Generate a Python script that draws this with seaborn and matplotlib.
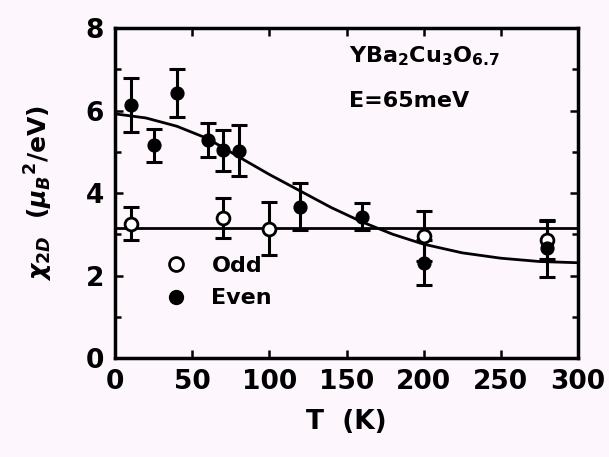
import matplotlib
matplotlib.use("Agg")
import matplotlib.pyplot as plt
import seaborn as sns
import pandas as pd
from matplotlib.ticker import MultipleLocator
from matplotlib.lines import Line2D

# Data
even_T = [10, 25, 40, 60, 70, 80, 120, 160, 200, 280]
even_chi = [6.13, 5.16, 6.42, 5.28, 5.04, 5.03, 3.67, 3.43, 2.31, 2.66]
even_err = [0.65, 0.40, 0.58, 0.41, 0.50, 0.62, 0.57, 0.33, 0.54, 0.69]

odd_T = [10, 70, 100, 200, 280]
odd_chi = [3.26, 3.39, 3.14, 2.96, 2.86]
odd_err = [0.40, 0.48, 0.65, 0.60, 0.45]

fit_T = [0, 20, 40, 60, 80, 100, 120, 140, 160, 180, 200, 225, 250, 275, 300]
fit_chi = [5.92, 5.82, 5.62, 5.32, 4.88, 4.45, 4.05, 3.65, 3.30, 3.00, 2.76, 2.55, 2.42, 2.34, 2.31]

odd_level_T = [0, 300]
odd_level = [3.15, 3.15]

bg = "#fdf7fd"
sns.set_theme(style="ticks")
plt.rcParams['font.family'] = ['DejaVu Sans']
plt.rcParams['font.weight'] = 'bold'
plt.rcParams['text.color'] = 'black'
plt.rcParams['axes.labelcolor'] = 'black'
plt.rcParams['xtick.color'] = 'black'
plt.rcParams['ytick.color'] = 'black'

fig = plt.figure(figsize=(6.09, 4.57), dpi=100, facecolor=bg)
ax = fig.add_axes([0.189, 0.2166, 0.760, 0.722])
ax.set_facecolor(bg)

even_df = pd.DataFrame({"T": even_T, "chi": even_chi, "err": even_err})
odd_df = pd.DataFrame({"T": odd_T, "chi": odd_chi, "err": odd_err})
fit_df = pd.DataFrame({"T": fit_T, "chi": fit_chi})
lvl_df = pd.DataFrame({"T": odd_level_T, "chi": odd_level})

sns.lineplot(data=fit_df, x="T", y="chi", ax=ax, color="black", lw=2.0, zorder=2)
sns.lineplot(data=lvl_df, x="T", y="chi", ax=ax, color="black", lw=2.0, zorder=2)

ax.errorbar(even_df["T"], even_df["chi"], yerr=even_df["err"], fmt="none",
            ecolor="black", elinewidth=2.2, capsize=6, capthick=2.2, zorder=3)
ax.errorbar(odd_df["T"], odd_df["chi"], yerr=odd_df["err"], fmt="none",
            ecolor="black", elinewidth=2.2, capsize=6, capthick=2.2, zorder=3)

sns.scatterplot(data=odd_df, x="T", y="chi", ax=ax, marker="o", s=85,
                facecolor="white", edgecolor="black", linewidth=2, zorder=4)
sns.scatterplot(data=even_df, x="T", y="chi", ax=ax, marker="o", s=85,
                color="black", edgecolor="black", linewidth=1, zorder=5)

ax.set_xlim(0, 300)
ax.set_ylim(0, 8)
ax.set_xticks([0, 50, 100, 150, 200, 250, 300])
ax.set_yticks([0, 2, 4, 6, 8])
ax.yaxis.set_minor_locator(MultipleLocator(1))
ax.tick_params(axis="both", which="both", direction="in", top=True, right=True,
               width=1.8, labelsize=19, pad=8)
ax.tick_params(which="major", length=6)
ax.tick_params(which="minor", length=4)
for lab in ax.get_xticklabels() + ax.get_yticklabels():
    lab.set_fontweight("bold")
for sp in ax.spines.values():
    sp.set_linewidth(2.5)
    sp.set_color("black")

ax.set_xlabel("T  (K)", fontsize=19, fontweight="bold", labelpad=10)
ax.set_ylabel(r"$\chi_{2D}$  ($\mu_B$$^2$/eV)", fontsize=18, fontweight="bold", labelpad=22)

ax.text(0.505, 0.95, r"YBa$_2$Cu$_3$O$_{6.7}$", transform=ax.transAxes,
        fontsize=16, fontweight="bold", ha="left", va="top")
ax.text(0.505, 0.81, "E=65meV", transform=ax.transAxes,
        fontsize=16, fontweight="bold", ha="left", va="top")

handles = [
    Line2D([], [], marker="o", ls="none", markersize=10, markerfacecolor="white",
           markeredgecolor="black", markeredgewidth=2),
    Line2D([], [], marker="o", ls="none", markersize=10, markerfacecolor="black",
           markeredgecolor="black"),
]
leg = ax.legend(handles, ["Odd", "Even"], loc="lower left", bbox_to_anchor=(0.04, 0.09),
                frameon=False, prop={"size": 16, "weight": "bold"},
                handletextpad=0.6, labelspacing=0.55)

fig.savefig("out.png", dpi=100, facecolor=bg)
